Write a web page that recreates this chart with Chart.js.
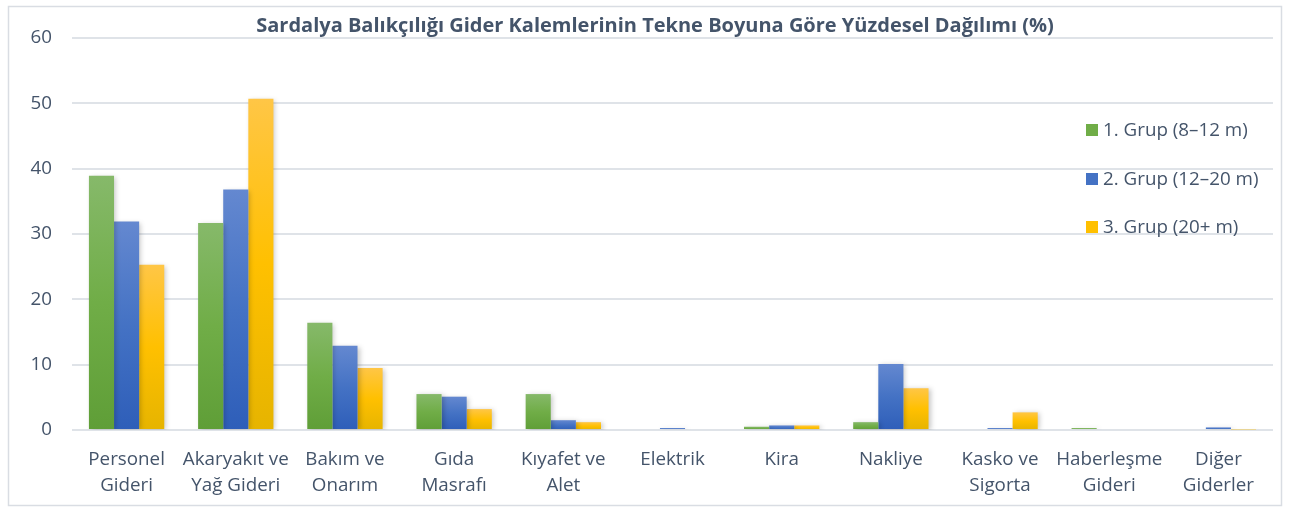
<!DOCTYPE html>
<html>
<head>
<meta charset="utf-8">
<script src="https://cdn.jsdelivr.net/npm/chart.js@4.4.1/dist/chart.umd.min.js"></script>
<style>
  html, body { margin: 0; padding: 0; background: #ffffff; }
  #wrap { width: 1290px; height: 511px; }
</style>
</head>
<body>
<div id="wrap"><canvas id="giderChart" width="1290" height="511"></canvas></div>
<script>
const chartTitle = 'Sardalya Balıkçılığı Gider Kalemlerinin Tekne Boyuna Göre Yüzdesel Dağılımı (%)';
const categories = [
    ['Personel', 'Gideri'], ['Akaryakıt ve', 'Yağ Gideri'], ['Bakım ve', 'Onarım'],
    ['Gıda', 'Masrafı'], ['Kıyafet ve', 'Alet'], 'Elektrik', 'Kira', 'Nakliye',
    ['Kasko ve', 'Sigorta'], ['Haberleşme', 'Gideri'], ['Diğer', 'Giderler']
];
const seriesNames = ['1. Grup (8–12 m)', '2. Grup (12–20 m)', '3. Grup (20+ m)'];
const grup1 = [38.9, 31.7, 16.4, 5.5, 5.5, 0, 0.5, 1.2, 0, 0.3, 0];
const grup2 = [31.9, 36.8, 12.9, 5.1, 1.5, 0.3, 0.7, 10.1, 0.3, 0.15, 0.4];
const grup3 = [25.3, 50.7, 9.5, 3.2, 1.2, 0, 0.7, 6.4, 2.7, 0, 0.1];
const yTicks = [0, 10, 20, 30, 40, 50, 60];

const fontFam = '"Open Sans", Lato, sans-serif';
const textColor = '#44546a';
const labelSize = 18.8;

// renk geçişleri (üst, orta, alt)
const palettes = [
    ['#86b96a', '#70ad47', '#5f9e37'],
    ['#6488d0', '#4472c4', '#2e5eb9'],
    ['#ffc646', '#ffc000', '#e6b400']
];

function barGradient(idx) {
    return function(context) {
        const chart = context.chart;
        const y = chart.scales.y;
        if (!y || context.raw === undefined) return palettes[idx][1];
        const top = y.getPixelForValue(context.raw);
        const bottom = y.getPixelForValue(0);
        if (!isFinite(top) || bottom - top < 1) return palettes[idx][1];
        const g = chart.ctx.createLinearGradient(0, top, 0, bottom);
        g.addColorStop(0, palettes[idx][0]);
        g.addColorStop(0.5, palettes[idx][1]);
        g.addColorStop(1, palettes[idx][2]);
        return g;
    };
}

// çerçeve, başlık ve gösterge (Excel görünümü)
const frameAndLegend = {
    id: 'frameAndLegend',
    beforeDraw(chart) {
        const c = chart.ctx;
        c.save();
        c.fillStyle = '#ffffff';
        c.fillRect(0, 0, chart.width, chart.height);
        c.strokeStyle = '#d9dde3';
        c.lineWidth = 1.5;
        c.strokeRect(8.5, 6.5, 1273, 499);
        c.fillStyle = textColor;
        c.font = 'bold 20px ' + fontFam;
        c.textAlign = 'center';
        c.textBaseline = 'middle';
        c.fillText(chartTitle, 655, 26);
        c.restore();
    },
    beforeDatasetsDraw(chart) {
        const c = chart.ctx;
        c.save();
        c.shadowColor = 'rgba(0,0,0,0.22)';
        c.shadowBlur = 5;
        c.shadowOffsetX = 2;
        c.shadowOffsetY = 1;
    },
    afterDatasetsDraw(chart) {
        chart.ctx.restore();
        const c = chart.ctx;
        c.save();
        c.font = labelSize + 'px ' + fontFam;
        c.textBaseline = 'middle';
        const rows = [130, 179, 227];
        chart.data.datasets.forEach((ds, i) => {
            c.fillStyle = palettes[i][1];
            c.fillRect(1086, rows[i] - 6, 12, 12);
            c.fillStyle = textColor;
            c.fillText(ds.label, 1103, rows[i] + 1);
        });
        c.restore();
    }
};

new Chart(document.getElementById('giderChart'), {
    type: 'bar',
    data: {
        labels: categories,
        datasets: [
            { label: seriesNames[0], data: grup1, backgroundColor: barGradient(0) },
            { label: seriesNames[1], data: grup2, backgroundColor: barGradient(1) },
            { label: seriesNames[2], data: grup3, backgroundColor: barGradient(2) }
        ]
    },
    options: {
        responsive: false,
        animation: false,
        layout: { padding: { left: 0, right: 17, top: 38, bottom: 0 } },
        datasets: { bar: { categoryPercentage: 0.69, barPercentage: 1.0 } },
        scales: {
            x: {
                grid: { display: false },
                border: { display: false },
                ticks: {
                    color: textColor,
                    font: { family: fontFam, size: labelSize, lineHeight: 1.38 },
                    padding: 9,
                    maxRotation: 0,
                    autoSkip: false
                },
                afterFit(scale) { scale.height = 81; }
            },
            y: {
                min: 0,
                max: 60,
                grid: { color: '#dfe3e8', lineWidth: 2, drawTicks: false },
                border: { display: false },
                ticks: {
                    color: textColor,
                    font: { family: fontFam, size: labelSize },
                    padding: 20,
                    stepSize: 10,
                    callback: (v) => yTicks.includes(v) ? v : null
                },
                afterFit(scale) { scale.width = 72; }
            }
        },
        plugins: {
            legend: { display: false },
            tooltip: { enabled: false },
            title: { display: false }
        }
    },
    plugins: [frameAndLegend]
});
</script>
</body>
</html>
